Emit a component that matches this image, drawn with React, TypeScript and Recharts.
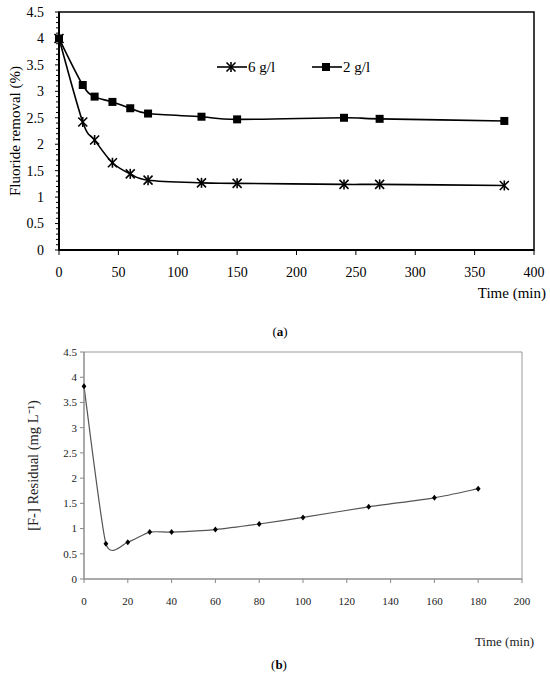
import React from 'react'
import {
  LineChart,
  Line,
  XAxis,
  YAxis,
  Legend,
  ReferenceArea,
} from 'recharts'

// (a) fluoride removal vs time, two adsorbent doses
const timeA = [0, 20, 30, 45, 60, 75, 120, 150, 240, 270, 375]
const removal6 = [4, 2.42, 2.08, 1.65, 1.44, 1.32, 1.27, 1.26, 1.24, 1.24, 1.22]
const removal2 = [4, 3.12, 2.9, 2.8, 2.68, 2.58, 2.52, 2.47, 2.5, 2.48, 2.44]
const xTicksA = [0, 50, 100, 150, 200, 250, 300, 350, 400]
// minor ticks every 0.1 on the y axis, labels on every 0.5
const yMinorA = Array.from({ length: 46 }, (_, i) => i / 10)
const legendOrder = ['g6', 'g2']

// (b) residual fluoride vs time
const timeB = [0, 10, 20, 30, 40, 60, 80, 100, 130, 160, 180]
const residual = [3.82, 0.7, 0.73, 0.93, 0.93, 0.98, 1.09, 1.22, 1.43, 1.61, 1.79]
const xTicksB = [0, 20, 40, 60, 80, 100, 120, 140, 160, 180, 200]
const yTicksB = [0, 0.5, 1, 1.5, 2, 2.5, 3, 3.5, 4, 4.5]

const FONT = '"Liberation Serif", "Times New Roman", serif'

const dataA = timeA.map((t, i) => ({ time: t, g6: removal6[i], g2: removal2[i] }))
const dataB = timeB.map((t, i) => ({ time: t, residual: residual[i] }))

// Excel-style smoothed line (Catmull-Rom bezier), k scales the tangents
function smoothCurve(k: number) {
  return (context: any) => {
    let pts: [number, number][] = []
    return {
      areaStart() {},
      areaEnd() {},
      lineStart() {
        pts = []
      },
      point(x: number, y: number) {
        pts.push([+x, +y])
      },
      lineEnd() {
        const n = pts.length
        if (!n) return
        context.moveTo(pts[0][0], pts[0][1])
        for (let i = 0; i < n - 1; i++) {
          const p0 = pts[Math.max(i - 1, 0)]
          const p1 = pts[i]
          const p2 = pts[i + 1]
          const p3 = pts[Math.min(i + 2, n - 1)]
          context.bezierCurveTo(
            p1[0] + ((p2[0] - p0[0]) * k) / 6,
            p1[1] + ((p2[1] - p0[1]) * k) / 6,
            p2[0] - ((p3[0] - p1[0]) * k) / 6,
            p2[1] - ((p3[1] - p1[1]) * k) / 6,
            p2[0],
            p2[1]
          )
        }
      },
    }
  }
}

function StarMark({ cx, cy, r = 4.5 }: { cx: number; cy: number; r?: number }) {
  return (
    <g stroke="#000" strokeWidth={1.6}>
      <line x1={cx - r} y1={cy - r} x2={cx + r} y2={cy + r} />
      <line x1={cx - r} y1={cy + r} x2={cx + r} y2={cy - r} />
      <line x1={cx} y1={cy - r - 0.5} x2={cx} y2={cy + r + 0.5} />
    </g>
  )
}

function SquareMark({ cx, cy, s = 8 }: { cx: number; cy: number; s?: number }) {
  return <rect x={cx - s / 2} y={cy - s / 2} width={s} height={s} fill="#000" />
}

function DiamondMark({ cx, cy }: { cx: number; cy: number }) {
  const r = 3
  return (
    <path
      d={`M${cx},${cy - r} L${cx + r * 0.8},${cy} L${cx},${cy + r} L${cx - r * 0.8},${cy} Z`}
      fill="#000"
    />
  )
}

function YTickA(props: any) {
  const { x, y, payload } = props
  const v = payload.value as number
  const major = Math.round(v * 10) % 5 === 0
  return (
    <g>
      <line x1={x - (major ? 4 : 3)} y1={y} x2={x} y2={y} stroke="#000" strokeWidth={1} />
      {major && (
        <text x={x - 15} y={y} dy="0.35em" textAnchor="end" fontSize={14} fontFamily={FONT} fill="#000">
          {v}
        </text>
      )}
    </g>
  )
}

function LegendA(props: any) {
  const items = [...(props.payload || [])].sort(
    (a: any, b: any) => legendOrder.indexOf(a.dataKey) - legendOrder.indexOf(b.dataKey)
  )
  return (
    <div style={{ display: 'flex', alignItems: 'center', fontFamily: FONT, fontSize: 15, color: '#000' }}>
      {items.map((item: any, i: number) => (
        <div key={item.dataKey} style={{ display: 'flex', alignItems: 'center', marginLeft: i === 0 ? 0 : 37 }}>
          <svg width={30} height={14} style={{ display: 'block' }}>
            <line x1={0} y1={7} x2={30} y2={7} stroke="#000" strokeWidth={1.6} />
            {item.dataKey === 'g6' ? <StarMark cx={14} cy={7} /> : <SquareMark cx={14} cy={7} />}
          </svg>
          <span style={{ marginLeft: 1, lineHeight: '14px' }}>{item.value}</span>
        </div>
      ))}
    </div>
  )
}

export default function App() {
  return (
    <div style={{ position: 'absolute', left: 0, top: 0, width: 550, height: 675, background: '#fff' }}>
      <div style={{ position: 'absolute', left: 0, top: 0 }}>
        <LineChart width={550} height={345} data={dataA} margin={{ top: 12, right: 16, bottom: 0, left: 0 }}>
          <XAxis
            dataKey="time"
            type="number"
            domain={[0, 400]}
            ticks={xTicksA}
            interval={0}
            height={95}
            tickSize={5}
            tickMargin={12}
            axisLine={{ stroke: '#000', strokeWidth: 2 }}
            tickLine={{ stroke: '#000' }}
            tick={{ fontSize: 14, fontFamily: FONT, fill: '#000' }}
            label={(p: any) => {
              const vb = p.viewBox
              return (
                <g>
                  <text x={vb.x + vb.width + 12} y={vb.y + 48} textAnchor="end" fontSize={15} fontFamily={FONT} fill="#000">
                    Time (min)
                  </text>
                  <text x={280} y={vb.y + 86} textAnchor="middle" fontSize={13} fontFamily={FONT} fill="#000">
                    (<tspan fontWeight="bold">a</tspan>)
                  </text>
                </g>
              )
            }}
          />
          <YAxis
            type="number"
            domain={[0, 4.5]}
            ticks={yMinorA}
            interval={0}
            width={59}
            tickSize={0}
            tickMargin={0}
            tickLine={false}
            axisLine={{ stroke: '#000', strokeWidth: 2 }}
            tick={<YTickA />}
            label={(p: any) => {
              const vb = p.viewBox
              const cy = vb.y + vb.height / 2
              return (
                <text x={15} y={cy} transform={`rotate(-90 15 ${cy})`} dy="0.35em" textAnchor="middle" fontSize={15} fontFamily={FONT} fill="#000">
                  Fluoride removal (%)
                </text>
              )
            }}
          />
          <ReferenceArea x1={0} x2={400} y1={0} y2={4.5} fill="none" stroke="#000" strokeWidth={1.5} />
          <Legend
            verticalAlign="middle"
            align="center"
            layout="horizontal"
            wrapperStyle={{ left: 217, top: 60, width: 200, height: 14 }}
            content={<LegendA />}
          />
          <Line
            type={smoothCurve(1) as any}
            dataKey="g6"
            name="6 g/l"
            stroke="#000"
            strokeWidth={1.6}
            isAnimationActive={false}
            dot={(p: any) => <StarMark key={`s-${p.index}`} cx={p.cx} cy={p.cy} />}
          />
          <Line
            type={smoothCurve(1) as any}
            dataKey="g2"
            name="2 g/l"
            stroke="#000"
            strokeWidth={1.6}
            isAnimationActive={false}
            dot={(p: any) => <SquareMark key={`q-${p.index}`} cx={p.cx} cy={p.cy} />}
          />
        </LineChart>
      </div>

      <div style={{ position: 'absolute', left: 0, top: 340 }}>
        <LineChart width={550} height={335} data={dataB} margin={{ top: 12, right: 28, bottom: 0, left: 0 }}>
          <XAxis
            dataKey="time"
            type="number"
            domain={[0, 200]}
            ticks={xTicksB}
            interval={0}
            height={96}
            tickSize={4}
            tickMargin={14}
            axisLine={{ stroke: '#888', strokeWidth: 1 }}
            tickLine={{ stroke: '#888' }}
            tick={{ fontSize: 11, fontFamily: FONT, fill: '#222' }}
            label={(p: any) => {
              const vb = p.viewBox
              return (
                <g>
                  <text x={vb.x + vb.width + 12} y={vb.y + 67} textAnchor="end" fontSize={13} fontFamily={FONT} fill="#222">
                    Time (min)
                  </text>
                  <text x={279} y={vb.y + 90} textAnchor="middle" fontSize={13} fontFamily={FONT} fill="#000">
                    (<tspan fontWeight="bold">b</tspan>)
                  </text>
                </g>
              )
            }}
          />
          <YAxis
            type="number"
            domain={[0, 4.5]}
            ticks={yTicksB}
            interval={0}
            width={84}
            tickSize={4}
            tickMargin={3}
            axisLine={{ stroke: '#888', strokeWidth: 1 }}
            tickLine={{ stroke: '#888' }}
            tick={{ fontSize: 11, fontFamily: FONT, fill: '#222' }}
            label={(p: any) => {
              const vb = p.viewBox
              const cy = vb.y + vb.height / 2
              return (
                <text x={33} y={cy} transform={`rotate(-90 33 ${cy})`} dy="0.35em" textAnchor="middle" fontSize={14.5} fontFamily={FONT} fill="#222">
                  [F-] Residual (mg L⁻¹)
                </text>
              )
            }}
          />
          <ReferenceArea x1={0} x2={200} y1={0} y2={4.5} fill="none" stroke="#999" strokeWidth={1} />
          <Line
            type={smoothCurve(0.6) as any}
            dataKey="residual"
            stroke="#555"
            strokeWidth={1.2}
            isAnimationActive={false}
            dot={(p: any) => <DiamondMark key={`d-${p.index}`} cx={p.cx} cy={p.cy} />}
          />
        </LineChart>
      </div>
    </div>
  )
}
